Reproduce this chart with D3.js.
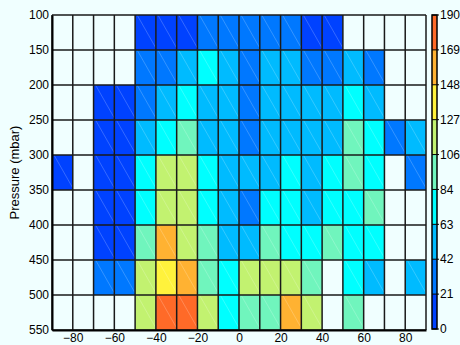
<!DOCTYPE html>
<html>
<head>
<meta charset="utf-8">
<script src="https://cdn.jsdelivr.net/npm/d3@7"></script>
<style>
  body { margin: 0; background: #f0ffff; }
  svg { display: block; font-family: "Liberation Sans", Arial, sans-serif; }
</style>
</head>
<body>
<svg id="chart" width="460" height="345"></svg>
<script>
// latitude bin edges (deg) and pressure bin edges (mbar)
var lonEdges = d3.range(-90, 91, 10);
var presEdges = d3.range(100, 551, 50);
var xTicks = [-80, -60, -40, -20, 0, 20, 40, 60, 80];
var yTicks = [100, 150, 200, 250, 300, 350, 400, 450, 500, 550];
var cbTicks = [0, 21, 42, 63, 84, 106, 127, 148, 169, 190];
var palette = ["#0042ff", "#0078ff", "#00bbff", "#00ffff", "#70f5bd",
               "#c2f270", "#fff23c", "#ffb232", "#ff6a28"];

// counts per cell, one row per pressure bin (null = no data)
var N = null;
var p100 = [N, N, N, N, 12, 10, 14, 32, 30, 33, 35, 31, 15, 13, N, N, N, N];
var p150 = [N, N, N, N, 30, 33, 52, 74, 55, 34, 53, 50, 32, 35, 54, 31, N, N];
var p200 = [N, N, 11, 13, 34, 52, 72, 54, 50, 33, 55, 52, 51, 53, 75, 52, N, N];
var p250 = [N, N, 12, 10, 53, 73, 95, 51, 55, 30, 52, 54, 50, 52, 96, 72, 31, 53];
var p300 = [14, N, 11, 12, 74, 115, 117, 73, 52, 54, 51, 75, 52, 73, 93, 74, N, 30];
var p350 = [N, N, 13, 11, 72, 118, 114, 75, 53, 32, 73, 76, 52, 74, 72, 96, N, N];
var p400 = [N, N, 10, 12, 94, 160, 116, 97, 51, 54, 95, 72, 74, 94, 73, 72, N, N];
var p450 = [N, N, 33, 31, 117, 138, 158, 93, 73, 114, 116, 113, 95, N, 74, 52, N, 54];
var p500 = [N, N, N, N, 115, 178, 176, 114, 72, 96, 94, 157, 116, N, 97, N, N, N];
var counts = [p100, p150, p200, p250, p300, p350, p400, p450, p500];

var svg = d3.select("#chart");
var x = d3.scaleLinear().domain([-90, 90]).range([52, 426]);
var y = d3.scaleLinear().domain([100, 550]).range([15, 330]);
var color = d3.scaleQuantize().domain([0, 190]).range(palette);

var cells = [];
counts.forEach(function (row, i) {
  row.forEach(function (v, j) {
    cells.push({ x0: lonEdges[j], x1: lonEdges[j + 1], y0: presEdges[i], y1: presEdges[i + 1], v: v });
  });
});

var g = svg.append("g");
g.selectAll("rect.cell")
  .data(cells)
  .enter()
  .append("rect")
  .attr("class", "cell")
  .attr("x", function (d) { return x(d.x0); })
  .attr("y", function (d) { return y(d.y0); })
  .attr("width", function (d) { return x(d.x1) - x(d.x0); })
  .attr("height", function (d) { return y(d.y1) - y(d.y0); })
  .style("fill", function (d) { return d.v == null ? "#f0ffff" : color(d.v); });

// faint mesh diagonal inside filled cells
g.selectAll("line.diag")
  .data(cells.filter(function (d) { return d.v != null; }))
  .enter()
  .append("line")
  .attr("x1", function (d) { return x(d.x0) + 2; })
  .attr("y1", function (d) { return y(d.y0); })
  .attr("x2", function (d) { return x(d.x1); })
  .attr("y2", function (d) { return y(d.y1) - 2; })
  .style("stroke", "#ffffff")
  .style("stroke-opacity", 0.3)
  .style("stroke-width", 0.7);

// cell borders
g.selectAll("line.v")
  .data(lonEdges)
  .enter()
  .append("line")
  .attr("x1", function (d) { return x(d); })
  .attr("x2", function (d) { return x(d); })
  .attr("y1", y(100))
  .attr("y2", y(550))
  .style("stroke", "#1a1a1a")
  .style("stroke-width", 1.5);
g.selectAll("line.h")
  .data(presEdges)
  .enter()
  .append("line")
  .attr("y1", function (d) { return y(d); })
  .attr("y2", function (d) { return y(d); })
  .attr("x1", x(-90))
  .attr("x2", x(90))
  .style("stroke", "#1a1a1a")
  .style("stroke-width", 1.5);

// axes
var xAxis = svg.append("g")
  .attr("transform", "translate(0," + y(550) + ")")
  .call(d3.axisBottom(x).tickValues(xTicks).tickSize(0).tickPadding(3)
    .tickFormat(function (d) { return String(d).replace("-", "\u2212"); }));
var yAxis = svg.append("g")
  .attr("transform", "translate(" + x(-90) + ",0)")
  .call(d3.axisLeft(y).tickValues(yTicks).tickSize(0).tickPadding(3));
[xAxis, yAxis].forEach(function (a) {
  a.select(".domain").style("stroke", "#000").style("stroke-width", 2);
  a.selectAll("text").style("font-size", "12px").style("fill", "#000")
    .style("font-family", "'Liberation Sans', Arial, sans-serif");
});

svg.append("text")
  .attr("text-anchor", "middle")
  .attr("transform", "translate(19," + ((y(100) + y(550)) / 2) + ")rotate(-90)")
  .style("font-size", "13px")
  .text("Pressure (mbar)");

// colorbar
var cb = d3.scaleLinear().domain([0, 190]).range([329, 15]);
var cbX = 432, cbW = 5;
var cbg = svg.append("g");
cbg.selectAll("rect")
  .data(palette)
  .enter()
  .append("rect")
  .attr("x", cbX)
  .attr("width", cbW)
  .attr("y", function (d, i) { return cb(190 * (i + 1) / 9); })
  .attr("height", function (d, i) { return cb(190 * i / 9) - cb(190 * (i + 1) / 9); })
  .style("fill", function (d) { return d; });
cbg.append("rect")
  .attr("x", cbX).attr("y", cb(190))
  .attr("width", cbW).attr("height", cb(0) - cb(190))
  .style("fill", "none").style("stroke", "#000").style("stroke-width", 1.5);
cbg.selectAll("line.t")
  .data(cbTicks)
  .enter()
  .append("line")
  .attr("x1", cbX)
  .attr("x2", cbX + cbW + 2)
  .attr("y1", function (d, i) { return cb(190 * i / 9); })
  .attr("y2", function (d, i) { return cb(190 * i / 9); })
  .style("stroke", "#000").style("stroke-width", 1);
cbg.selectAll("text")
  .data(cbTicks)
  .enter()
  .append("text")
  .attr("x", cbX + cbW + 3)
  .attr("y", function (d, i) { return cb(190 * i / 9); })
  .attr("dy", "0.35em")
  .style("font-size", "12px")
  .text(function (d) { return d; });
</script>
</body>
</html>
